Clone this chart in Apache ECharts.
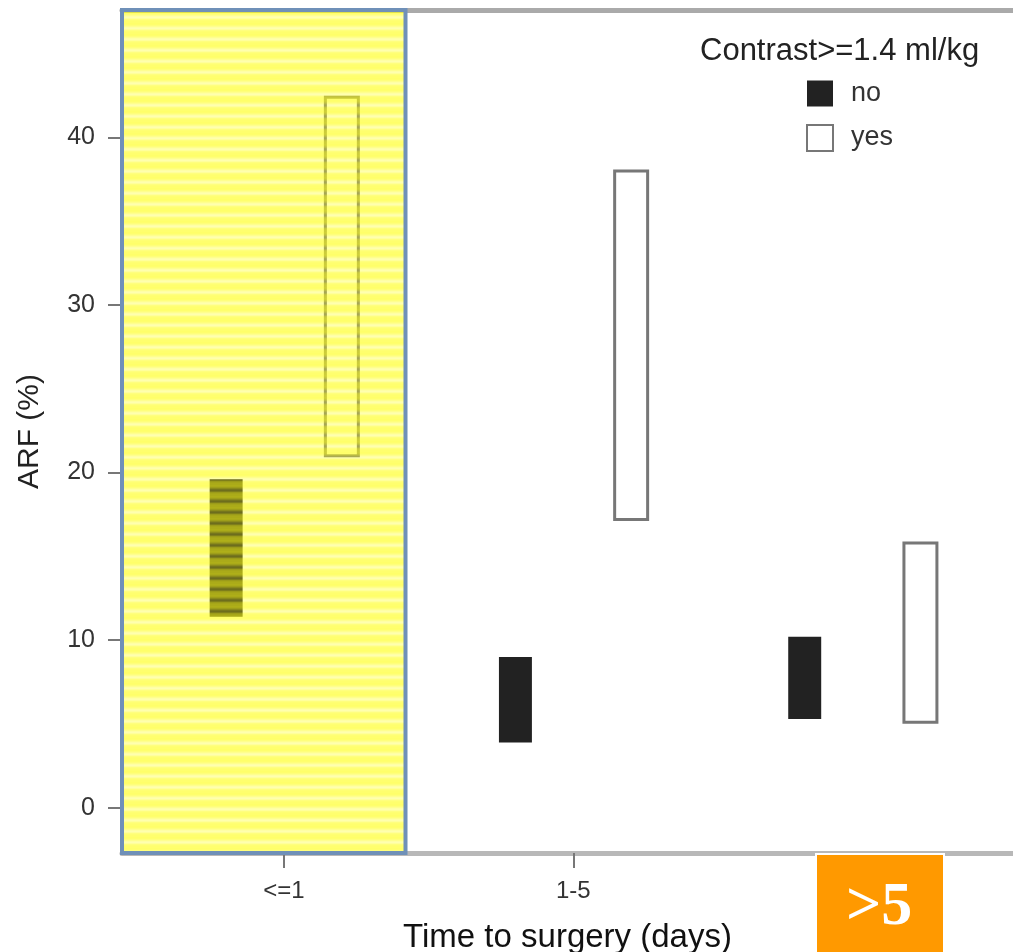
<!DOCTYPE html>
<html>
<head>
<meta charset="utf-8">
<script src="https://cdn.jsdelivr.net/npm/echarts@6/dist/echarts.min.js"></script>
<style>
  html, body { margin: 0; padding: 0; background: #fff; }
  #main { width: 1013px; height: 952px; }
</style>
</head>
<body>
<div id="main"></div>
<script>
// data
var categories = ['<=1', '1-5', '>5'];
var catPos = [1, 2, 3];
var noLow  = [11.4, 3.9, 5.3];
var noHigh = [19.6, 9.0, 10.2];
var yesLow  = [21.0, 17.2, 5.1];
var yesHigh = [42.4, 38.0, 15.8];
var yTicks = [0, 10, 20, 30, 40];

var font = 'Liberation Sans, Arial, sans-serif';
var xMin = 0.44, xMax = 3.52, yMin = -2.7, yMax = 47.6;

function rangeData(low, high) {
  return catPos.map(function (x, i) { return [x, low[i], high[i]]; });
}

function makeRender(offset) {
  return function (params, api) {
    var x = api.value(0);
    var p1 = api.coord([x + offset - 0.057, api.value(2)]);
    var p2 = api.coord([x + offset + 0.057, api.value(1)]);
    return {
      type: 'rect',
      shape: { x: p1[0], y: p1[1], width: p2[0] - p1[0], height: p2[1] - p1[1] },
      style: api.style()
    };
  };
}

// striped yellow fill for the highlight box
var stripe = document.createElement('canvas');
stripe.width = 8; stripe.height = 11;
var sctx = stripe.getContext('2d');
var alphas = [0.62, 0.64, 0.62, 0.56, 0.48, 0.38, 0.34, 0.42, 0.55, 0.6, 0.62];
alphas.forEach(function (a, i) {
  sctx.fillStyle = 'rgba(255,255,20,' + a + ')';
  sctx.fillRect(0, i, 8, 1);
});

var chart = echarts.init(document.getElementById('main'));
var option = {
  animation: false,
  title: {
    text: 'Contrast>=1.4 ml/kg',
    left: 695, top: 31,
    textStyle: { fontFamily: font, fontSize: 31, fontWeight: 'normal', color: '#222' }
  },
  legend: {
    orient: 'vertical',
    left: 801, top: 75,
    itemWidth: 26, itemHeight: 26, itemGap: 17,
    data: [{ name: 'no', icon: 'rect' }, { name: 'yes', icon: 'rect' }],
    textStyle: { fontFamily: font, fontSize: 27, color: '#333', padding: [0, 0, 0, 13] }
  },
  grid: { left: 122, top: 10, right: 0, bottom: 99, outerBoundsMode: 'none', containLabel: false },
  xAxis: [
    {
      type: 'value',
      min: xMin, max: xMax,
      splitLine: { show: false },
      axisLine: { show: true, onZero: false, lineStyle: { color: '#b8b8b8', width: 5 } },
      axisTick: { show: true, customValues: catPos, length: 15, lineStyle: { color: '#777', width: 2 } },
      axisLabel: {
        customValues: catPos,
        formatter: function (v) { return categories[catPos.indexOf(Math.round(v))] || ''; },
        fontFamily: font, fontSize: 24, color: '#333', margin: 26
      },
      name: 'Time to surgery (days)',
      nameLocation: 'middle',
      nameGap: 68,
      nameTextStyle: { fontFamily: font, fontSize: 33, color: '#111' }
    },
    {
      type: 'value',
      position: 'top',
      min: xMin, max: xMax,
      splitLine: { show: false },
      axisLine: { show: true, onZero: false, lineStyle: { color: '#aaa', width: 5 } },
      axisTick: { show: false },
      axisLabel: { show: false }
    }
  ],
  yAxis: {
    type: 'value',
    min: yMin, max: yMax,
    splitLine: { show: false },
    axisLine: { show: false },
    axisTick: { show: true, customValues: yTicks, length: 14, lineStyle: { color: '#777', width: 2 } },
    axisLabel: {
      customValues: yTicks,
      fontFamily: font, fontSize: 25, color: '#333', margin: 27
    },
    name: 'ARF (%)',
    nameLocation: 'middle',
    nameGap: 77,
    nameTextStyle: { fontFamily: font, fontSize: 30, color: '#222' }
  },
  series: [
    {
      name: 'no',
      type: 'custom',
      renderItem: makeRender(-0.2),
      itemStyle: { color: '#222', borderColor: '#222', borderWidth: 0 },
      encode: { x: 0, y: [1, 2] },
      data: rangeData(noLow, noHigh),
      z: 2
    },
    {
      name: 'yes',
      type: 'custom',
      renderItem: makeRender(0.2),
      itemStyle: { color: '#fff', borderColor: '#777', borderWidth: 3 },
      encode: { x: 0, y: [1, 2] },
      data: rangeData(yesLow, yesHigh),
      z: 2
    },
    {
      name: 'highlight',
      type: 'line',
      data: [],
      markArea: {
        silent: true,
        z: 10,
        itemStyle: {
          color: { image: stripe, repeat: 'repeat' },
          borderColor: '#6f90b8',
          borderWidth: 4,
          opacity: 1
        },
        data: [[{ coord: [xMin, yMin] }, { coord: [1.42, yMax] }]]
      }
    }
  ],
  graphic: {
    elements: [
      { type: 'rect', z: 100, left: 815, top: 853, shape: { width: 128, height: 100 }, style: { fill: '#ff9900', stroke: '#fff', lineWidth: 2 } },
      { type: 'text', z: 101, left: 846, top: 877, style: { text: '>5', fill: '#fff', font: 'bold 62px "Liberation Serif", "DejaVu Serif", serif' } }
    ]
  }
};
chart.setOption(option);
</script>
</body>
</html>
